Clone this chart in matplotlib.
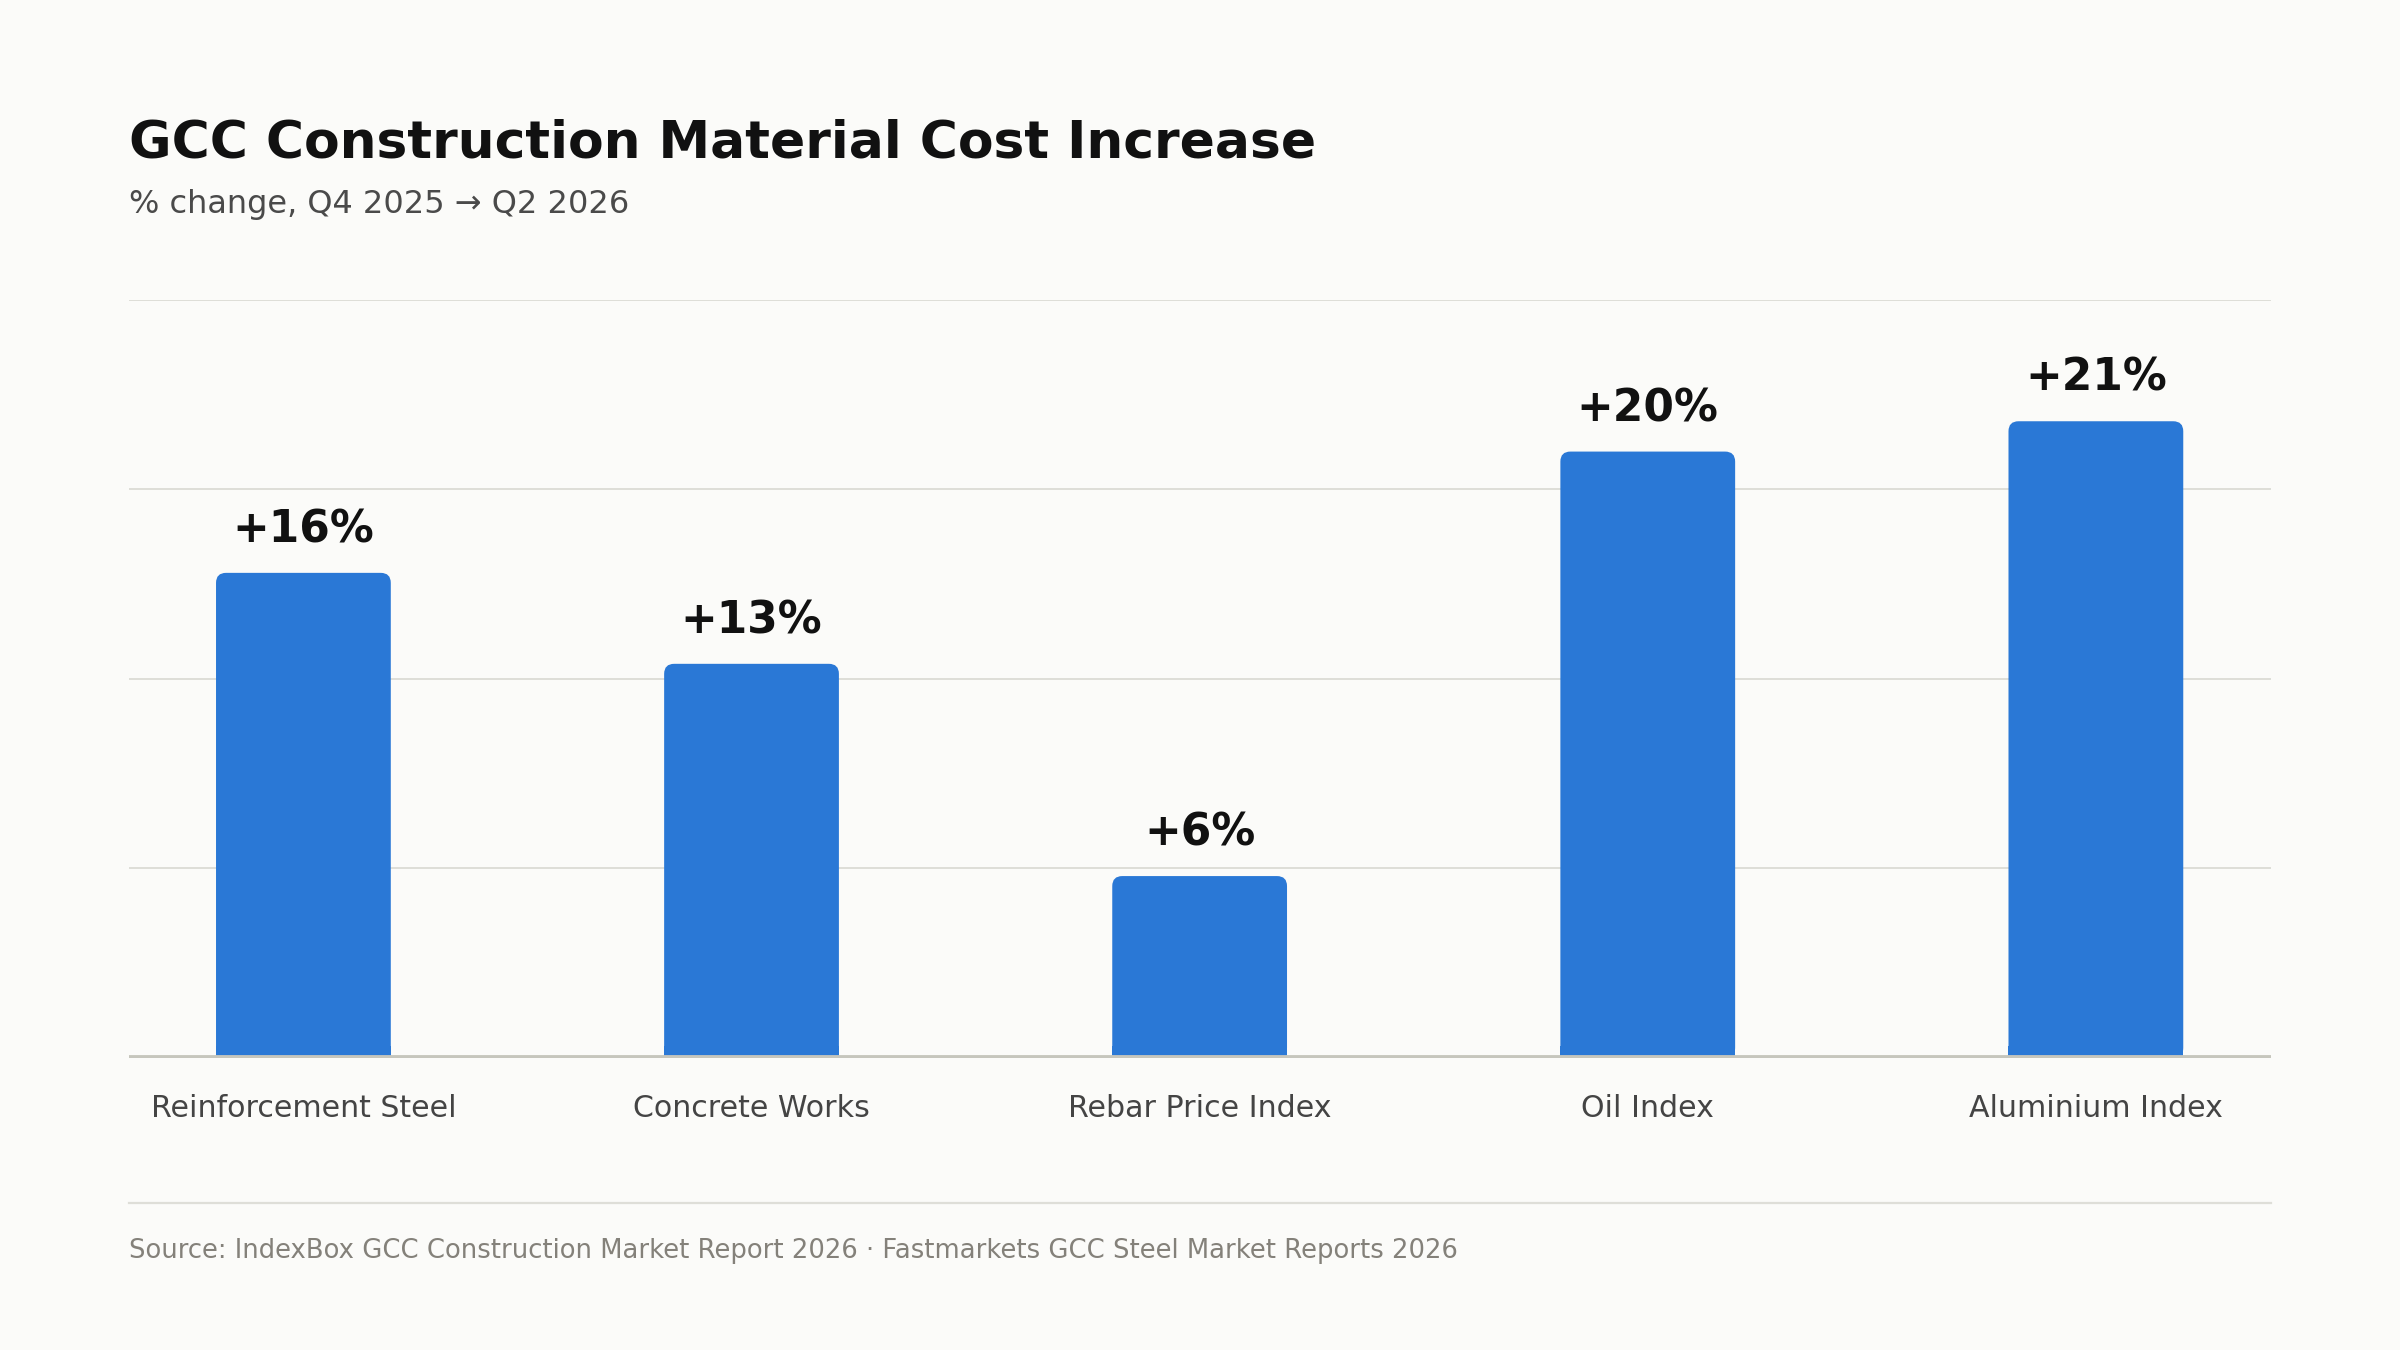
import matplotlib.pyplot as plt
from matplotlib.patches import FancyBboxPatch
from matplotlib.lines import Line2D

# Data
categories = ['Reinforcement Steel', 'Concrete Works', 'Rebar Price Index',
              'Oil Index', 'Aluminium Index']
pct_change = [16, 13, 6, 20, 21]
bar_labels = ['+16%', '+13%', '+6%', '+20%', '+21%']

# Colours
bg = '#fbfbf9'
bar_color = '#2a78d6'
grid_color = '#deded8'
base_color = '#c6c6bd'
text_dark = '#111111'
text_mid = '#444444'
text_light = '#84817a'

fig = plt.figure(figsize=(12, 6.75), dpi=200, facecolor=bg)
ax = fig.add_axes([0.0536, 0.2163, 0.8925, 0.5615])
ax.set_facecolor(bg)

ax.set_xlim(-0.39, len(categories) - 1 + 0.39)
ax.set_ylim(0, 25)
ax.set_yticks([0, 6.25, 12.5, 18.75, 25])
ax.yaxis.grid(True, color=grid_color, linewidth=0.7)
ax.set_axisbelow(True)
ax.tick_params(axis='y', length=0, labelleft=False)
ax.tick_params(axis='x', length=0, pad=13, labelsize=10.8, labelcolor=text_mid)
ax.set_xticks(range(len(categories)))
ax.set_xticklabels(categories)
for s in ax.spines.values():
    s.set_visible(False)

# rounded-top bars
fig.canvas.draw()
px_per_x = ax.transData.transform((1, 0))[0] - ax.transData.transform((0, 0))[0]
px_per_y = ax.transData.transform((0, 1))[1] - ax.transData.transform((0, 0))[1]
width = 0.39
r_px = 10
r_x = r_px / px_per_x
r_y = r_px / px_per_y
aspect = r_y / r_x

for i, v in enumerate(pct_change):
    x0 = i - width / 2
    top = FancyBboxPatch((x0, 0), width, v,
                         boxstyle=f"round,pad=0,rounding_size={r_x}",
                         mutation_aspect=aspect, facecolor=bar_color,
                         edgecolor='none', zorder=2)
    ax.add_patch(top)
    # square off the bottom corners
    ax.bar(i, r_y * 1.2, width=width, bottom=0, color=bar_color,
           linewidth=0, zorder=2)
    ax.annotate(bar_labels[i], (i, v), xytext=(0, 11), textcoords='offset points',
                ha='center', va='baseline', fontsize=15.8, fontweight='bold',
                color=text_dark, zorder=3)

ax.axhline(0, color=base_color, linewidth=2.1, zorder=3)

# Title block
fig.text(0.0536, 0.8837, 'GCC Construction Material Cost Increase',
         fontsize=18.7, fontweight='bold', color=text_dark, va='baseline')
fig.text(0.0536, 0.8422, '% change, Q4 2025 \u2192 Q2 2026',
         fontsize=11.5, color='#4a4a4a', va='baseline')

# Footer
fig.add_artist(Line2D([0.0536, 0.9461], [0.1089, 0.1089], color=grid_color,
                      linewidth=0.8, transform=fig.transFigure))
fig.text(0.0536, 0.0681,
         'Source: IndexBox GCC Construction Market Report 2026 \u00b7 Fastmarkets GCC Steel Market Reports 2026',
         fontsize=9.33, color=text_light, va='baseline')

plt.savefig('out.png', dpi=200, facecolor=bg)
